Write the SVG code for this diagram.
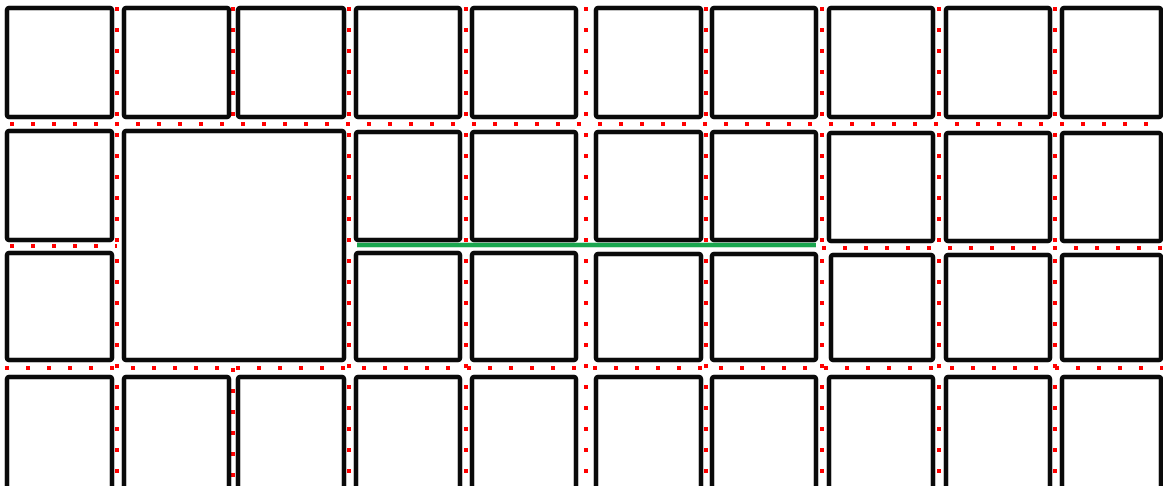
<svg xmlns="http://www.w3.org/2000/svg" width="1163" height="486" viewBox="0 0 1163 486">
<style>
.cell{fill:#fff;stroke:#0a0a0a;stroke-width:4.5;}
.dot{stroke:#ff0000;stroke-width:4;stroke-dasharray:4 17;fill:none;}
.green{stroke:#1aa64f;stroke-width:4.5;fill:none;}
</style>
<rect width="1163" height="486" fill="#fff"/>
<g id="connectors">
<line class="dot" x1="117" y1="7" x2="117" y2="486"/>
<line class="dot" x1="233" y1="7" x2="233" y2="124"/>
<line class="dot" x1="233" y1="368" x2="233" y2="486"/>
<line class="dot" x1="349" y1="7" x2="349" y2="486"/>
<line class="dot" x1="466" y1="7" x2="466" y2="486"/>
<line class="dot" x1="586" y1="7" x2="586" y2="486"/>
<line class="dot" x1="706" y1="7" x2="706" y2="486"/>
<line class="dot" x1="822" y1="7" x2="822" y2="486"/>
<line class="dot" x1="939" y1="7" x2="939" y2="486"/>
<line class="dot" x1="1055" y1="7" x2="1055" y2="486"/>
<line class="dot" x1="10" y1="124" x2="1163" y2="124"/>
<line class="dot" x1="10" y1="246" x2="117" y2="246"/>
<line class="dot" x1="822" y1="248" x2="1163" y2="248"/>
<line class="dot" x1="5" y1="368" x2="1163" y2="368"/>
<line class="green" x1="357" y1="245" x2="816" y2="245"/>
</g>
<g id="r1c1"><rect class="cell" x="7" y="8" width="105" height="109" rx="2"/></g>
<g id="r1c2"><rect class="cell" x="124" y="8" width="105" height="109" rx="2"/></g>
<g id="r1c3"><rect class="cell" x="238" y="8" width="106" height="109" rx="2"/></g>
<g id="r1c4"><rect class="cell" x="356" y="8" width="104" height="109" rx="2"/></g>
<g id="r1c5"><rect class="cell" x="472" y="8" width="104" height="109" rx="2"/></g>
<g id="r1c6"><rect class="cell" x="596" y="8" width="105" height="109" rx="2"/></g>
<g id="r1c7"><rect class="cell" x="712" y="8" width="104" height="109" rx="2"/></g>
<g id="r1c8"><rect class="cell" x="829" y="8" width="104" height="109" rx="2"/></g>
<g id="r1c9"><rect class="cell" x="946" y="8" width="104" height="109" rx="2"/></g>
<g id="r1c10"><rect class="cell" x="1062" y="8" width="99" height="109" rx="2"/></g>

<g id="r2c1"><rect class="cell" x="7" y="131" width="105" height="109" rx="2"/></g>
<g id="big"><rect class="cell" x="124" y="131" width="220" height="229" rx="2"/></g>
<g id="r2c4"><rect class="cell" x="356" y="132" width="104" height="108" rx="2"/></g>
<g id="r2c5"><rect class="cell" x="472" y="132" width="104" height="108" rx="2"/></g>
<g id="r2c6"><rect class="cell" x="596" y="132" width="105" height="108" rx="2"/></g>
<g id="r2c7"><rect class="cell" x="712" y="132" width="104" height="108" rx="2"/></g>
<g id="r2c8"><rect class="cell" x="829" y="133" width="104" height="108" rx="2"/></g>
<g id="r2c9"><rect class="cell" x="946" y="133" width="104" height="108" rx="2"/></g>
<g id="r2c10"><rect class="cell" x="1062" y="133" width="99" height="108" rx="2"/></g>

<g id="r3c1"><rect class="cell" x="7" y="253" width="105" height="107" rx="2"/></g>
<g id="r3c4"><rect class="cell" x="356" y="253" width="104" height="107" rx="2"/></g>
<g id="r3c5"><rect class="cell" x="472" y="253" width="104" height="107" rx="2"/></g>
<g id="r3c6"><rect class="cell" x="596" y="254" width="105" height="106" rx="2"/></g>
<g id="r3c7"><rect class="cell" x="712" y="254" width="104" height="106" rx="2"/></g>
<g id="r3c8"><rect class="cell" x="831" y="255" width="102" height="105" rx="2"/></g>
<g id="r3c9"><rect class="cell" x="946" y="255" width="104" height="105" rx="2"/></g>
<g id="r3c10"><rect class="cell" x="1062" y="255" width="99" height="105" rx="2"/></g>

<g id="r4c1"><rect class="cell" x="7" y="377" width="105" height="115" rx="2"/></g>
<g id="r4c2"><rect class="cell" x="124" y="377" width="105" height="115" rx="2"/></g>
<g id="r4c3"><rect class="cell" x="238" y="377" width="106" height="115" rx="2"/></g>
<g id="r4c4"><rect class="cell" x="356" y="377" width="104" height="115" rx="2"/></g>
<g id="r4c5"><rect class="cell" x="472" y="377" width="104" height="115" rx="2"/></g>
<g id="r4c6"><rect class="cell" x="596" y="377" width="105" height="115" rx="2"/></g>
<g id="r4c7"><rect class="cell" x="712" y="377" width="104" height="115" rx="2"/></g>
<g id="r4c8"><rect class="cell" x="829" y="377" width="104" height="115" rx="2"/></g>
<g id="r4c9"><rect class="cell" x="946" y="377" width="104" height="115" rx="2"/></g>
<g id="r4c10"><rect class="cell" x="1062" y="377" width="99" height="115" rx="2"/></g>
</svg>
